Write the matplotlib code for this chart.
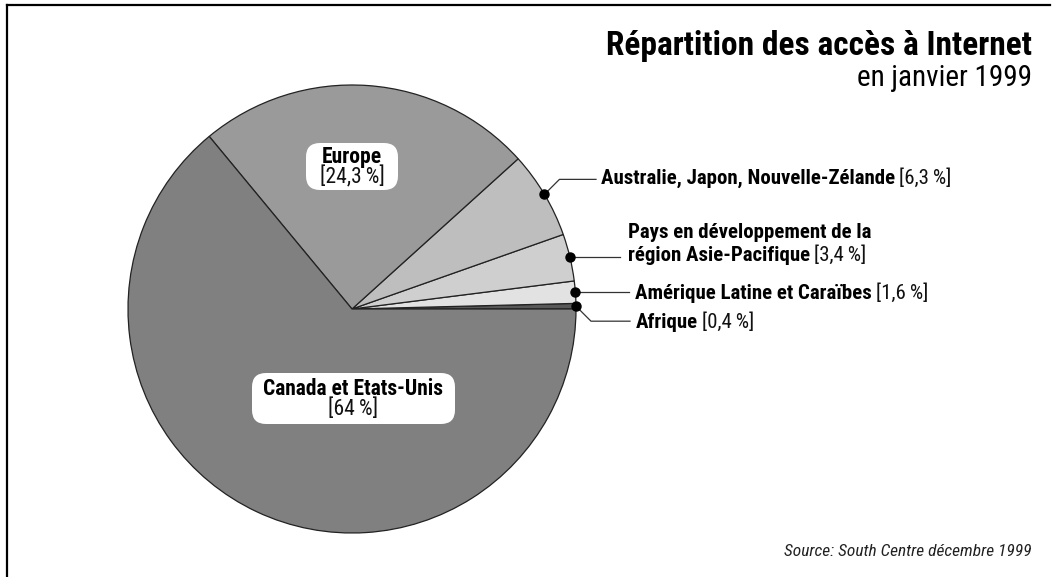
import matplotlib
matplotlib.use("Agg")
import matplotlib.pyplot as plt
from matplotlib.patches import FancyBboxPatch
from matplotlib.lines import Line2D
import numpy as np

# ---- data ----
categories = ["Afrique", "Amérique Latine et Caraïbes", "Pays en développement de la région Asie-Pacifique",
              "Australie, Japon, Nouvelle-Zélande", "Europe", "Canada et Etats-Unis"]
values = [0.4, 1.6, 3.4, 6.3, 24.3, 64.0]
value_labels = ["[0,4\u2009%]", "[1,6\u2009%]", "[3,4\u2009%]", "[6,3\u2009%]", "[24,3\u2009%]", "[64\u2009%]"]
colors = ["#585858", "#e2e2e2", "#cfcfcf", "#bebebe", "#9a9a9a", "#808080"]
title = "Répartition des accès à Internet"
subtitle = "en janvier 1999"
source = "Source: South Centre décembre 1999"

FONT = ["Roboto Condensed", "Liberation Sans Narrow", "DejaVu Sans Condensed", "Roboto", "DejaVu Sans"]
plt.rcParams["font.family"] = FONT

W, H = 1054, 577
fig = plt.figure(figsize=(W / 100, H / 100), dpi=100)
ax = fig.add_axes([0, 0, 1, 1])

cx, cy, r = 352, 309, 224
ax.pie(values, colors=colors, startangle=0, counterclock=False, center=(cx, cy), radius=r,
       wedgeprops=dict(edgecolor="#222222", linewidth=0.9), frame=True)
ax.set_xlim(0, W)
ax.set_ylim(H, 0)
ax.axis("off")

# dot positions at mid-angle of each small slice
cum = np.cumsum(values)
mids = (cum - np.array(values) / 2) * 3.6
dots = [(cx + r * np.cos(np.radians(a)), cy - r * np.sin(np.radians(a))) for a in mids]

FS = 15
LC = "#333333"

def mixed(x, y, bold, reg, size=FS):
    t = ax.text(x, y, bold, fontweight="bold", fontsize=size, ha="left", va="center", color="black")
    if reg:
        ax.annotate(reg, xy=(1, 0.5), xycoords=t, xytext=(3, 0), textcoords="offset points",
                    ha="left", va="center", fontsize=size, color="#111111")
    return t

# Afrique
dx, dy = dots[0]
ax.plot([dx, dx + 15, 630], [dy, dy + 15, dy + 15], color=LC, lw=0.9)
mixed(636, dy + 16, categories[0], value_labels[0])
# Amérique
dx, dy = dots[1]
ax.plot([dx, 629], [dy, dy], color=LC, lw=0.9)
mixed(635, dy + 1, categories[1], value_labels[1])
# Pays
dx, dy = dots[2]
ax.plot([dx, 620], [dy, dy], color=LC, lw=0.9)
ax.text(628, dy - 25, "Pays en développement de la", fontweight="bold", fontsize=FS, ha="left", va="center")
mixed(628, dy - 2, "région Asie-Pacifique", value_labels[2])
# Australie
dx, dy = dots[3]
ax.plot([dx, dx + 15, 596], [dy, dy - 15, dy - 15], color=LC, lw=0.9)
mixed(601, dy - 16, categories[3], value_labels[3])

for i in range(4):
    ax.plot(*dots[i], "o", color="black", ms=6.5, zorder=5)

# inner labels
for (x0, y0, w, h) in [(306, 143, 92, 47), (252, 373, 203, 51)]:
    ax.add_patch(FancyBboxPatch((x0 + 14, y0 + 14), w - 28, h - 28,
                                boxstyle="round,pad=14", fc="white", ec="none", zorder=4))
ax.text(352, 157, categories[4], fontweight="bold", fontsize=15.5, ha="center", va="center", zorder=5)
ax.text(352, 177, value_labels[4], fontsize=15.5, ha="center", va="center", zorder=5, color="#111111")
ax.text(353, 389, categories[5], fontweight="bold", fontsize=15.5, ha="center", va="center", zorder=5)
ax.text(353, 409, value_labels[5], fontsize=15.5, ha="center", va="center", zorder=5, color="#111111")

# titles
ax.text(1032, 46, title, fontweight="bold", fontsize=24, ha="right", va="center")
ax.text(1032, 78, subtitle, fontsize=21, ha="right", va="center")
ax.text(1032, 551, source, fontsize=12.5, style="italic", ha="right", va="center", color="#222222")

# partial frame
fig.add_artist(Line2D([7 / W, 1050 / W], [1 - 5 / H, 1 - 5 / H], color="black", lw=1.6))
fig.add_artist(Line2D([7 / W, 7 / W], [1 - 5 / H, 0], color="black", lw=1.6))

fig.savefig("out.png", dpi=100)
